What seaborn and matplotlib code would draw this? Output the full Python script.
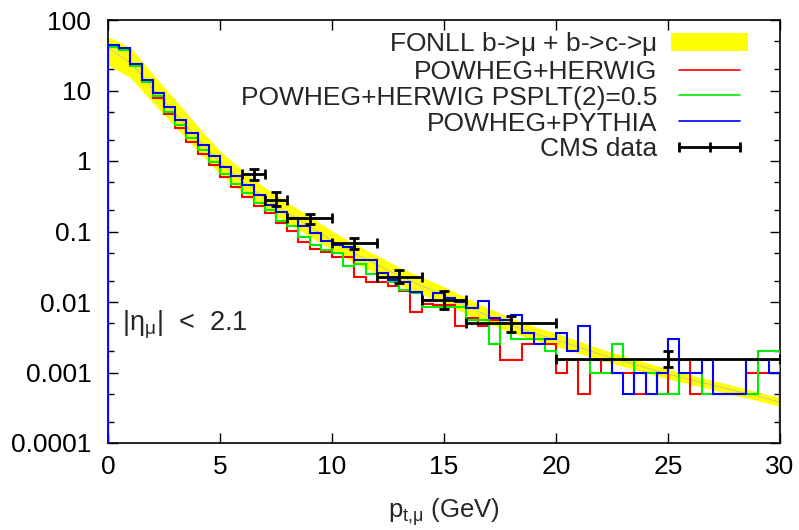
import numpy as np
import matplotlib
matplotlib.use('Agg')
import matplotlib.pyplot as plt
import seaborn as sns
from matplotlib.patches import Patch
from matplotlib.lines import Line2D
from matplotlib.ticker import FixedLocator, NullFormatter, LogLocator

sns.set_style("ticks")
plt.rcParams['font.family'] = ['Liberation Sans', 'DejaVu Sans']
plt.rcParams['mathtext.default'] = 'regular'

# histograms: 60 bins of 0.5 GeV from 0 to 30 (empty bins = 0)
bin_width = 0.5
powheg_herwig = [42, 38, 22, 13.0, 7.8, 4.6, 2.95, 1.85, 1.25, 0.88,
                 0.60, 0.43, 0.31, 0.23, 0.185, 0.13, 0.103, 0.07, 0.056, 0.051,
                 0.043, 0.043, 0.0229, 0.0194, 0.0194, 0.0168, 0.0141, 0.0072, 0.0095, 0.0090,
                 0.0090, 0.0046, 0.0060, 0.0046, 0.0055, 0.0015, 0.0015, 0.0025, 0.0025, 0.0025,
                 0.0010, 0.0015, 0.0005, 0.0010, 0.0015, 0.0010, 0.0010, 0.0005, 0.0010, 0.0005,
                 0.0015, 0.0015, 0.0005, 0.0005, 0.0005, 0.0005, 0.0005, 0.0010, 0.0010, 0.0010]
powheg_herwig_psplt = [42, 38, 22.5, 13.4, 8.4, 5.0, 3.2, 2.1, 1.42, 0.98,
                       0.66, 0.47, 0.35, 0.25, 0.20, 0.141, 0.12, 0.083, 0.064, 0.055,
                       0.050, 0.032, 0.035, 0.025, 0.022, 0.0195, 0.0150, 0.0133, 0.0086, 0.0086,
                       0.0086, 0.0086, 0.0055, 0.0055, 0.0025, 0.0055, 0.0030, 0.0030, 0.0030, 0.0020,
                       0.0015, 0.0015, 0.0015, 0.0010, 0.0010, 0.0025, 0.0015, 0.0010, 0.0010, 0.0005,
                       0.0005, 0.0010, 0.0010, 0.0005, 0.0005, 0.0005, 0.0005, 0.0005, 0.0020, 0.0020]
powheg_pythia = [44, 40, 23.5, 14.1, 9.1, 5.8, 3.8, 2.5, 1.69, 1.18,
                 0.83, 0.62, 0.45, 0.33, 0.24, 0.19, 0.155, 0.12, 0.094, 0.074,
                 0.064, 0.061, 0.040, 0.040, 0.026, 0.0205, 0.0194, 0.0140, 0.0108, 0.0133,
                 0.0115, 0.0100, 0.0081, 0.0102, 0.0060, 0.0055, 0.0065, 0.0036, 0.0025, 0.0030,
                 0.0036, 0.0020, 0.0046, 0.0015, 0.0015, 0.0010, 0.0005, 0.0010, 0.0005, 0.0010,
                 0.0030, 0.0010, 0.0010, 0.0015, 0.0005, 0.0005, 0.0005, 0.0015, 0.0015, 0.0010]

# FONLL band (b->mu + b->c->mu)
fonll_pt = list(range(0, 31))
fonll_central = [40, 25, 10.7, 4.75, 2.1, 0.95, 0.52, 0.30, 0.185, 0.118,
                 0.075, 0.049, 0.034, 0.0234, 0.017, 0.0125, 0.0088, 0.0063, 0.0047, 0.0036,
                 0.0029, 0.0023, 0.0018, 0.00145, 0.00117, 0.00095, 0.00079, 0.00066, 0.00055, 0.00046,
                 0.00038]
fonll_low = [23, 15.2, 6.7, 3.06, 1.4, 0.655, 0.364, 0.213, 0.132, 0.0855,
             0.055, 0.036, 0.0252, 0.0175, 0.0128, 0.0095, 0.0068, 0.0049, 0.0037, 0.0029,
             0.00235, 0.00188, 0.0015, 0.00122, 0.00099, 0.00081, 0.00068, 0.00057, 0.00047, 0.0004,
             0.00033]
fonll_high = [58, 41, 17.1, 7.4, 3.15, 1.38, 0.74, 0.42, 0.26, 0.163,
              0.102, 0.066, 0.046, 0.031, 0.0226, 0.0165, 0.0114, 0.0081, 0.0059, 0.0045,
              0.0036, 0.0028, 0.00216, 0.00173, 0.00139, 0.00112, 0.00092, 0.00077, 0.00064, 0.00053,
              0.00044]

# CMS data
cms_pt = [6.5, 7.5, 9, 11, 13, 15, 18, 25]
cms_pt_err = [0.5, 0.5, 1, 1, 1, 1, 2, 5]
cms_val = [0.65, 0.28, 0.154, 0.068, 0.0229, 0.0107, 0.0050, 0.00155]
cms_err_down = [0.12, 0.05, 0.026, 0.012, 0.0046, 0.0028, 0.0012, 0.00037]
cms_err_up = [0.13, 0.08, 0.026, 0.012, 0.0056, 0.0034, 0.0014, 0.00045]

ytick_vals = [0.0001, 0.001, 0.01, 0.1, 1, 10, 100]
ytick_labels = ['0.0001', '0.001', '0.01', '0.1', '1', '10', '100']
ymin, ymax = 1e-4, 100


def histeps(ax, vals, **kw):
    # gnuplot-like histeps: empty bins are skipped, steps sit halfway between points
    v = np.array(vals, dtype=float)
    c = (np.arange(len(v)) + 0.5) * bin_width
    ok = v > 0
    c, v = c[ok], v[ok]
    edges = np.concatenate([[c[0] - (c[1] - c[0]) / 2],
                            (c[1:] + c[:-1]) / 2,
                            [c[-1] + (c[-1] - c[-2]) / 2]])
    ax.stairs(v, edges, baseline=ymin, **kw)


fig = plt.figure(figsize=(7.99, 5.30), dpi=100)
ax = fig.add_axes([108 / 799, 1 - 443 / 530, 672 / 799, 423 / 530])

ax.fill_between(fonll_pt, fonll_low, fonll_high, color='#ffff00', lw=0, zorder=1)
sns.lineplot(x=fonll_pt, y=fonll_central, ax=ax, color='#c8c890', lw=0.7, zorder=2)

histeps(ax, powheg_herwig, color='#ff0000', lw=1.5, zorder=3)
histeps(ax, powheg_herwig_psplt, color='#00ee00', lw=1.5, zorder=4)
histeps(ax, powheg_pythia, color='#0000ff', lw=1.5, zorder=5)

ax.errorbar(cms_pt, cms_val, xerr=cms_pt_err, yerr=[cms_err_down, cms_err_up],
            fmt='none', ecolor='black', elinewidth=2, capsize=3.5, capthick=2, zorder=6)

ax.set_yscale('log')
ax.set_xlim(0, 30)
ax.set_ylim(ymin, ymax)
ax.set_xticks([0, 5, 10, 15, 20, 25, 30])
ax.yaxis.set_major_locator(FixedLocator(ytick_vals))
ax.set_yticklabels(ytick_labels)
ax.yaxis.set_minor_locator(LogLocator(base=10, subs=(2, 5)))
ax.yaxis.set_minor_formatter(NullFormatter())
ax.tick_params(which='both', direction='in', top=True, right=True, width=1, colors='black')
ax.tick_params(which='major', length=7, labelsize=19)
ax.tick_params(which='minor', length=4)
ax.tick_params(axis='y', pad=12)
ax.tick_params(axis='x', pad=9)
for s in ax.spines.values():
    s.set_linewidth(1.2)
    s.set_color('black')

ax.set_xlabel(r'p$_{t{,}\mu}$ (GeV)', fontsize=18.5, labelpad=12)
ax.text(0.021, 0.28, r'|$\eta_\mu$|  <  2.1', transform=ax.transAxes, fontsize=19.5,
        ha='left', va='center')

# legend: gnuplot style, sample on the right
handles = [Patch(facecolor='#ffff00', edgecolor='none'),
           Line2D([], [], color='#ff0000', lw=1.2),
           Line2D([], [], color='#00ee00', lw=1.2),
           Line2D([], [], color='#0000ff', lw=1.2),
           Line2D([], [], color='black', lw=2, marker='|', markersize=7, markeredgewidth=2)]
labels = [r'FONLL b->$\mu$ + b->c->$\mu$', 'POWHEG+HERWIG', 'POWHEG+HERWIG PSPLT(2)=0.5',
          'POWHEG+PYTHIA', 'CMS data']
ax.legend(handles, labels, loc='upper right', bbox_to_anchor=(748 / 799, 1 - 30 / 530),
          bbox_transform=fig.transFigure, frameon=False, fontsize=19, markerfirst=False,
          handlelength=2.9, handletextpad=0.55, labelspacing=0.07, borderpad=0,
          borderaxespad=0, numpoints=3)

fig.savefig('out.png', dpi=100)
